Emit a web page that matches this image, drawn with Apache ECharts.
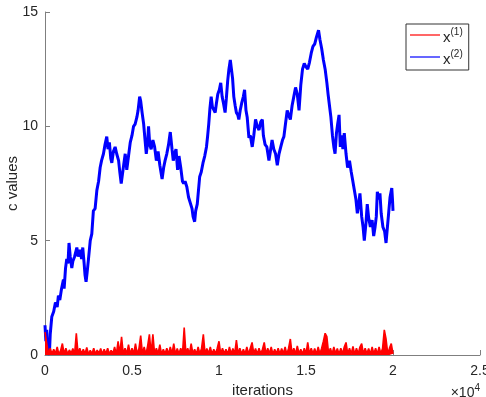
<!DOCTYPE html>
<html>
<head>
<meta charset="utf-8">
<script src="https://cdn.jsdelivr.net/npm/echarts@6/dist/echarts.min.js"></script>
<style>
  html, body { margin: 0; padding: 0; background: #fff; }
  #chart { width: 486px; height: 397px; }
</style>
</head>
<body>
<div id="chart"></div>
<script>
// Iteration positions (thousands) and values of the x^(2) trace
const blueIter = [
  0, 0.05, 0.1, 0.15, 0.2, 0.25, 0.3, 0.39, 0.5, 0.6, 0.7, 0.77, 0.85, 0.95, 1.06, 1.1, 1.18, 1.25, 1.32, 1.38,
  1.45, 1.54, 1.6, 1.7, 1.83, 1.9, 2.02, 2.1, 2.17, 2.25, 2.3, 2.36, 2.42, 2.5, 2.6, 2.69, 2.78, 2.88, 2.98, 3.08,
  3.17, 3.25, 3.36, 3.45, 3.55, 3.62, 3.7, 3.78, 3.84, 3.93, 4.03, 4.12, 4.23, 4.3, 4.38, 4.45, 4.52, 4.61, 4.7, 4.8,
  4.9, 5.0, 5.09, 5.18, 5.28, 5.35, 5.44, 5.5, 5.58, 5.67, 5.75, 5.82, 5.9, 5.95, 6.02, 6.1, 6.2, 6.3, 6.4, 6.5,
  6.6, 6.73, 6.82, 6.9, 7.0, 7.1, 7.2, 7.3, 7.37, 7.45, 7.53, 7.62, 7.7, 7.8, 7.9, 7.97, 8.05, 8.15, 8.25, 8.35,
  8.45, 8.51, 8.6, 8.66, 8.75, 8.82, 8.89, 8.98, 9.08, 9.18, 9.28, 9.35, 9.41, 9.48, 9.55, 9.62, 9.7, 9.78, 9.85, 9.93,
  10.02, 10.1, 10.18, 10.26, 10.35, 10.42, 10.5, 10.57, 10.65, 10.7, 10.78, 10.85, 10.93, 11.0, 11.08, 11.14, 11.22, 11.3, 11.4, 11.47,
  11.55, 11.62, 11.72, 11.8, 11.91, 12.0, 12.1, 12.2, 12.3, 12.4, 12.49, 12.55, 12.65, 12.75, 12.87, 12.95, 13.05, 13.15, 13.25, 13.35,
  13.45, 13.55, 13.65, 13.73, 13.82, 13.92, 14.0, 14.1, 14.2, 14.3, 14.4, 14.5, 14.6, 14.7, 14.8, 14.9, 15.0, 15.1, 15.2, 15.3,
  15.4, 15.5, 15.6, 15.72, 15.8, 15.9, 16.0, 16.1, 16.2, 16.27, 16.35, 16.43, 16.52, 16.6, 16.67, 16.75, 16.82, 16.9, 16.97, 17.05,
  17.12, 17.2, 17.3, 17.39, 17.5, 17.6, 17.68, 17.78, 17.87, 17.95, 18.03, 18.1, 18.2, 18.28, 18.35, 18.45, 18.52, 18.6, 18.7, 18.8,
  18.89, 18.97, 19.04, 19.1, 19.18, 19.25, 19.32, 19.42, 19.52, 19.6, 19.68, 19.75, 19.83, 19.93, 19.97, 20.0
];
const blueValues = [
  1.3, 0.6, 1.1, 0.1, 0.4, 0.0, 0.9, 1.67, 1.9, 2.3, 2.1, 2.6, 2.4, 2.9, 3.3, 2.9, 3.8, 4.2, 4.0, 4.9,
  4.3, 3.8, 4.1, 4.3, 4.7, 4.3, 4.6, 4.2, 4.7, 4.0, 3.5, 3.2, 3.6, 4.2, 5.0, 5.3, 6.3, 6.4, 7.2, 7.6,
  8.2, 8.5, 8.8, 9.2, 9.55, 9.0, 9.3, 8.6, 8.4, 8.9, 9.1, 8.8, 8.5, 8.0, 7.5, 7.9, 8.3, 8.8, 8.1, 8.7,
  9.3, 9.6, 10.0, 10.1, 10.4, 10.7, 11.3, 11.1, 10.6, 10.1, 9.4, 8.8, 9.3, 10.0, 9.2, 9.0, 9.4, 9.1, 8.5, 8.9,
  8.3, 7.7, 8.2, 8.5, 8.8, 9.2, 9.75, 9.0, 8.5, 8.8, 9.0, 8.1, 8.7, 8.2, 7.6, 7.5, 7.6, 7.36, 6.9, 6.9,
  6.4, 6.05, 5.83, 6.3, 6.6, 7.2, 7.8, 8.0, 8.4, 8.7, 9.1, 9.6, 10.1, 10.8, 11.3, 10.85, 10.9, 10.6, 11.0, 11.4,
  11.6, 11.9, 11.3, 11.0, 10.6, 11.2, 12.0, 12.5, 12.9, 12.97, 12.1, 11.3, 10.9, 10.6, 10.5, 10.3, 10.7, 11.0, 11.3, 11.6,
  10.7, 10.4, 9.5, 9.6, 9.1, 9.6, 10.3, 10.0, 9.84, 10.2, 10.3, 9.6, 9.2, 9.1, 8.5, 8.9, 9.4, 9.0, 8.8, 8.3,
  8.8, 9.1, 9.4, 9.55, 10.1, 10.7, 10.5, 10.3, 10.9, 11.3, 11.7, 11.4, 10.7, 11.8, 12.5, 12.75, 12.6, 12.5, 12.8, 13.2,
  13.5, 13.6, 13.9, 14.2, 13.8, 13.4, 12.9, 12.5, 11.9, 11.4, 10.9, 10.4, 9.6, 9.1, 8.8, 9.7, 10.1, 10.5, 9.1, 9.6,
  9.0, 9.7, 8.8, 8.2, 8.5, 8.0, 7.65, 7.2, 6.8, 6.2, 6.6, 7.07, 6.05, 5.6, 5.0, 5.8, 6.6, 6.0, 5.6, 5.9,
  5.2, 5.6, 6.05, 7.14, 6.8, 7.07, 6.2, 5.6, 5.4, 4.9, 5.6, 6.2, 6.9, 7.3, 6.8, 6.3
];

// x^(1) trace, sampled every 100 iterations from 0 to 20000
const redStep = 0.1;
const redValues = [
  1.0, 0.5, 0.05, 0.3, 0.04, 0.25, 0.06, 0.35, 0.03, 0.2,
  0.5, 0.05, 0.3, 0.04, 0.22, 0.07, 0.28, 0.03, 0.95, 0.05,
  0.3, 0.04, 0.25, 0.06, 0.33, 0.03, 0.2, 0.05, 0.3, 0.04,
  0.22, 0.06, 0.28, 0.03, 0.25, 0.05, 0.3, 0.04, 0.2, 0.06,
  0.35, 0.03, 0.6, 0.05, 0.8, 0.04, 0.3, 0.06, 0.45, 0.03,
  0.3, 0.05, 0.5, 0.04, 0.28, 0.85, 0.06, 0.35, 0.03, 0.4,
  0.9, 0.05, 0.9, 0.04, 0.3, 0.06, 0.45, 0.03, 0.25, 0.05,
  0.3, 0.04, 0.35, 0.06, 0.5, 0.03, 0.28, 0.05, 0.3, 0.04,
  1.2, 0.05, 0.3, 0.04, 0.5, 0.06, 0.25, 0.03, 0.35, 0.05,
  0.3, 0.9, 0.04, 0.28, 0.06, 0.35, 0.03, 0.25, 0.05, 0.3,
  0.6, 0.04, 0.3, 0.06, 0.25, 0.03, 0.35, 0.05, 0.28, 0.04,
  0.65, 0.06, 0.3, 0.03, 0.25, 0.05, 0.35, 0.04, 0.3, 0.55,
  0.06, 0.28, 0.03, 0.3, 0.05, 0.25, 0.55, 0.04, 0.3, 0.06,
  0.35, 0.03, 0.25, 0.05, 0.3, 0.04, 0.28, 0.06, 0.35, 0.03,
  0.3, 0.7, 0.05, 0.3, 0.04, 0.4, 0.06, 0.25, 0.03, 0.3,
  0.05, 0.55, 0.04, 0.3, 0.06, 0.28, 0.03, 0.35, 0.05, 0.3,
  0.6, 0.95, 0.8, 0.05, 0.3, 0.04, 0.35, 0.06, 0.28, 0.03,
  0.3, 0.05, 0.35, 0.55, 0.04, 0.3, 0.06, 0.38, 0.03, 0.3,
  0.05, 0.35, 0.5, 0.04, 0.3, 0.06, 0.28, 0.03, 0.35, 0.05,
  0.3, 0.04, 0.35, 0.06, 0.28, 1.1, 0.7, 0.05, 0.3, 0.5,
  0.05
];

const xTicks = [0, 5000, 10000, 15000, 20000, 25000];
const yTicks = [0, 5, 10, 15];
const seriesNames = ['x1', 'x2'];

const blueData = blueIter.map((k, i) => [k * 1000, blueValues[i]]);
const redData = redValues.map((v, i) => [Math.round(i * redStep * 1000), v]);

const font = 'Liberation Sans, Arial, Helvetica, sans-serif';
const axisGray = '#7f7f7f';
const textDark = '#262626';

const chart = echarts.init(document.getElementById('chart'), null, { renderer: 'canvas' });
chart.setOption({
  animation: false,
  backgroundColor: '#ffffff',
  grid: { left: 45, right: 6, top: 12, bottom: 42, containLabel: false, outerBoundsMode: 'none' },
  xAxis: {
    type: 'value',
    min: xTicks[0], max: xTicks[xTicks.length - 1], interval: 5000,
    name: 'iterations', nameLocation: 'middle', nameGap: 28, nameMoveOverlap: false,
    nameTextStyle: { fontFamily: font, fontSize: 15, color: textDark },
    axisLine: { onZero: false, lineStyle: { color: axisGray, width: 1 } },
    axisTick: { inside: true, length: 5, lineStyle: { color: axisGray } },
    axisLabel: {
      fontFamily: font, fontSize: 14, color: textDark, margin: 9,
      formatter: v => String(v / 10000)
    },
    splitLine: { show: false }
  },
  yAxis: {
    type: 'value',
    min: yTicks[0], max: yTicks[yTicks.length - 1], interval: 5,
    name: 'c values', nameLocation: 'middle', nameGap: 25, nameMoveOverlap: false,
    nameTextStyle: { fontFamily: font, fontSize: 15, color: textDark },
    axisLine: { show: true, lineStyle: { color: axisGray, width: 1 } },
    axisTick: { show: true, inside: true, length: 5, lineStyle: { color: axisGray } },
    axisLabel: { fontFamily: font, fontSize: 14, color: textDark, margin: 7 },
    splitLine: { show: false }
  },
  legend: {
    orient: 'vertical',
    left: 406, top: 24,
    padding: [3, 6, 3, 4],
    itemGap: 4,
    icon: 'rect',
    itemWidth: 30, itemHeight: 1.2,
    backgroundColor: '#ffffff',
    borderColor: '#333333', borderWidth: 1,
    data: seriesNames,
    formatter: name => name === 'x1' ? '{b|x}{s|(1)}' : '{b|x}{s|(2)}',
    textStyle: {
      fontFamily: font, color: textDark, padding: [0, 0, 0, -2],
      rich: {
        b: { fontFamily: font, fontSize: 15, color: textDark, padding: [5, 0, 0, 0] },
        s: { fontFamily: font, fontSize: 10, color: textDark, padding: [0, 0, 6, 0] }
      }
    }
  },
  graphic: [{
    type: 'text',
    right: 6, top: 383,
    style: {
      text: '{m|\u00d710}{p|4}',
      rich: {
        m: { fontFamily: font, fontSize: 14, fill: textDark, padding: [5, 0, 0, 0] },
        p: { fontFamily: font, fontSize: 10, fill: textDark, padding: [0, 0, 6, 0] }
      }
    }
  }],
  series: [
    {
      name: 'x1', type: 'line', data: redData,
      symbol: 'none', showSymbol: false,
      lineStyle: { color: '#ff0000', width: 1.6 },
      itemStyle: { color: '#ff0000' },
      areaStyle: { color: '#ff0000', opacity: 1 },
      z: 3
    },
    {
      name: 'x2', type: 'line', data: blueData,
      symbol: 'none', showSymbol: false,
      lineStyle: { color: '#0000ff', width: 3 },
      itemStyle: { color: '#0000ff' },
      z: 2
    }
  ]
});
</script>
</body>
</html>
